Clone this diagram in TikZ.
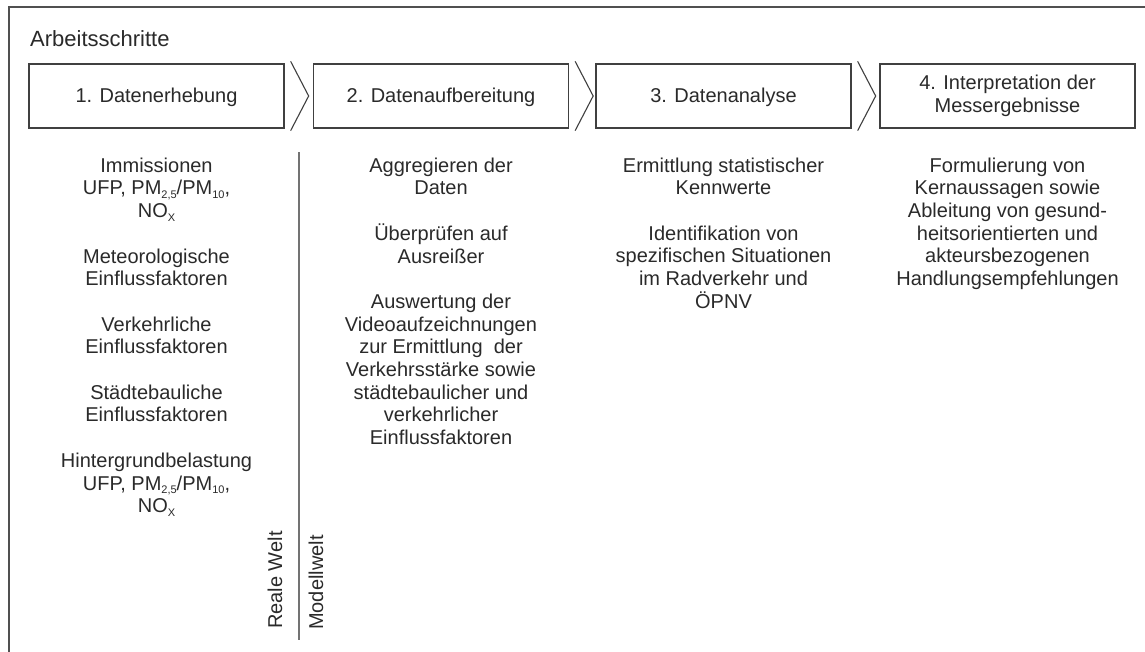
\documentclass[tikz,border=0pt]{standalone}
\usepackage{fontspec}
\setmainfont{Liberation Sans}
\definecolor{tc}{HTML}{2A2A2A}
\definecolor{bc}{HTML}{404040}
\definecolor{fc}{HTML}{505050}
\newcommand\smallsub[1]{\raisebox{-3.5pt}{\fontsize{11}{11}\selectfont #1}}
\begin{document}
\begin{tikzpicture}[x=1pt,y=-1pt,
  txt/.style={text=tc, font=\fontsize{20}{22.7}\selectfont, inner sep=0pt, align=center},
  stepbox/.style={draw=bc, line width=1.3pt, minimum width=255pt, minimum height=64pt, inner sep=0pt, text=tc, font=\fontsize{20}{23.5}\selectfont, align=center},
  onelinebox/.style={stepbox, text height=14.6pt, text depth=1.5pt},
  chev/.style={draw=bc, line width=1.1pt, line join=miter},
  outerframe/.style={draw=fc, line width=2pt},
  sep/.style={draw=fc!80, line width=1.5pt}
]
\useasboundingbox (0,0) rectangle (1145,651);
\fill[white] (0,0) rectangle (1145,651);
\draw[outerframe] (1160,7) -- (9,7) -- (9,670);
\node[txt, font=\fontsize{22}{24}\selectfont, anchor=base west] (title) at (30,46) {Arbeitsschritte};

\node[onelinebox] (b1) at (156.5,96) {1. Datenerhebung};
\node[onelinebox] (b2) at (441,96) {2. Datenaufbereitung};
\node[onelinebox] (b3) at (723.5,96) {3. Datenanalyse};
\node[stepbox] (b4) at (1007.5,96) {4. Interpretation der\\Messergebnisse};

\draw[chev] ([xshift=6pt,yshift=2pt]b1.north east) -- ([xshift=24pt]b1.east) -- ([xshift=6pt,yshift=-2pt]b1.south east);
\draw[chev] ([xshift=6pt,yshift=2pt]b2.north east) -- ([xshift=24pt]b2.east) -- ([xshift=6pt,yshift=-2pt]b2.south east);
\draw[chev] ([xshift=6pt,yshift=2pt]b3.north east) -- ([xshift=24pt]b3.east) -- ([xshift=6pt,yshift=-2pt]b3.south east);

\node[txt, anchor=north] (t1) at (156.5,157.5) {Immissionen\\UFP, PM\smallsub{2,5}/PM\smallsub{10},\\NO\smallsub{X}\\[22.7pt]Meteorologische\\Einflussfaktoren\\[22.7pt]Verkehrliche\\Einflussfaktoren\\[22.7pt]Städtebauliche\\Einflussfaktoren\\[22.7pt]Hintergrundbelastung\\UFP, PM\smallsub{2,5}/PM\smallsub{10},\\NO\smallsub{X}};
\node[txt, anchor=north] (t2) at (441,157.5) {Aggregieren der\\Daten\\[22.7pt]Überprüfen auf\\Ausreißer\\[22.7pt]Auswertung der\\Videoaufzeichnungen\\zur Ermittlung\ \ der\\Verkehrsstärke sowie\\städtebaulicher und\\verkehrlicher\\Einflussfaktoren};
\node[txt, anchor=north] (t3) at (723.5,157.5) {Ermittlung statistischer\\Kennwerte\\[22.7pt]Identifikation von\\spezifischen Situationen\\im Radverkehr und\\ÖPNV};
\node[txt, anchor=north] (t4) at (1007.5,157.5) {Formulierung von\\Kernaussagen sowie\\Ableitung von gesund-\\heitsorientierten und\\akteursbezogenen\\Handlungsempfehlungen};

\coordinate (s1) at (299,152);
\coordinate (s2) at (299,640);
\draw[sep] (s1) -- (s2);
\node[txt, rotate=90, anchor=base west] (rw) at (282,629) {Reale Welt};
\node[txt, rotate=90, anchor=base west] (mw) at (323,630) {Modellwelt};
\end{tikzpicture}
\end{document}
